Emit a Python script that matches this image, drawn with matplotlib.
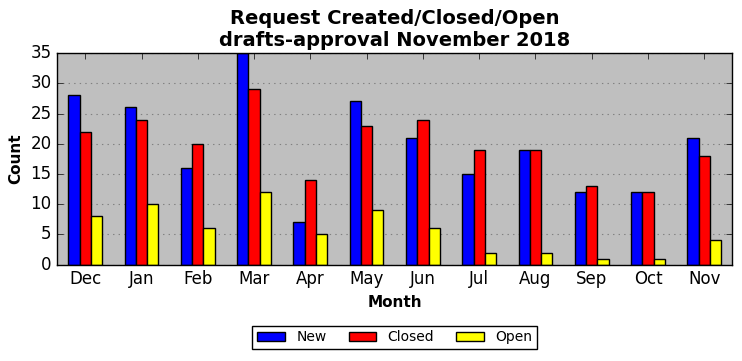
import matplotlib
matplotlib.use("Agg")
import matplotlib.pyplot as plt
import numpy as np

months = ["Dec", "Jan", "Feb", "Mar", "Apr", "May", "Jun", "Jul", "Aug", "Sep", "Oct", "Nov"]
new = [28, 26, 16, 35, 7, 27, 21, 15, 19, 12, 12, 21]
closed = [22, 24, 20, 29, 14, 23, 24, 19, 19, 13, 12, 18]
open_ = [8, 10, 6, 12, 5, 9, 6, 2, 2, 1, 1, 4]

plt.style.use("classic")
fig, ax = plt.subplots(figsize=(7.42, 3.61), dpi=100)
fig.patch.set_facecolor("white")
ax.set_facecolor("#bfbfbf")

x = np.arange(len(months))
w = 0.2
series = [("New", new, "blue"), ("Closed", closed, "red"), ("Open", open_, "yellow")]
for i, (label, vals, color) in enumerate(series):
    ax.bar(x + (i - 1) * w, vals, width=w, color=color, edgecolor="black",
           linewidth=1.0, label=label, align="center")

ax.set_xlim(-0.5, len(months) - 0.5)
ax.set_ylim(0, 35)
ax.set_yticks(range(0, 36, 5))
ax.set_xticks(x)
ax.set_xticklabels(months)
ax.tick_params(axis="both", labelsize=12)
ax.yaxis.grid(True, color="#808080", linestyle=":", linewidth=0.8)
ax.set_axisbelow(True)

ax.set_title("Request Created/Closed/Open\ndrafts-approval November 2018",
             fontsize=14, fontweight="bold")
ax.set_xlabel("Month", fontsize=11, fontweight="bold")
ax.set_ylabel("Count", fontsize=11, fontweight="bold")

ax.legend(loc="upper center", bbox_to_anchor=(0.5, -0.255), ncol=3,
          fontsize=10, frameon=True, fancybox=False, handlelength=2.0,
          columnspacing=1.6, borderpad=0.35)

fig.subplots_adjust(left=0.077, right=0.987, top=0.853, bottom=0.267)
fig.savefig("out.png", dpi=100, facecolor="white")
